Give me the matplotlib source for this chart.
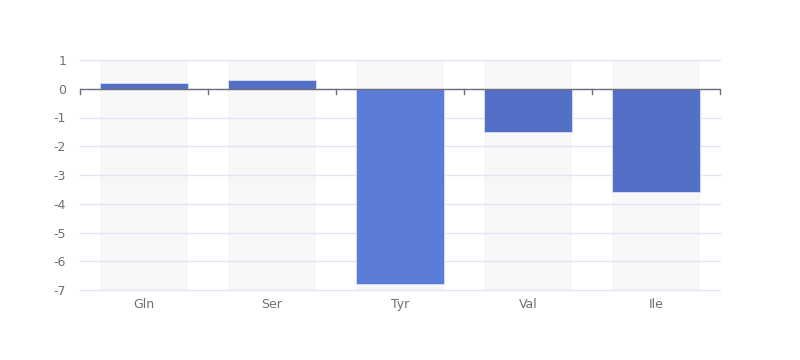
import matplotlib.pyplot as plt

# residue change values
residues = ['Gln', 'Ser', 'Tyr', 'Val', 'Ile']
values = [0.2, 0.3, -6.8, -1.5, -3.6]
y_ticks = [1, 0, -1, -2, -3, -4, -5, -6, -7]

bar_colors = ['#5470c6', '#5470c6', '#5b7bd9', '#5470c6', '#5470c6']

fig = plt.figure(figsize=(8, 3.6), dpi=100)
ax = fig.add_axes([0.1, 70 / 360, 0.8, 230 / 360])

x = range(len(residues))
bar_width = 0.69

# grey background columns
ax.bar(x, [y_ticks[0] - y_ticks[-1]] * len(residues), bottom=y_ticks[-1],
       width=bar_width, color='#f7f7f7', zorder=1)

# grid lines drawn over the background columns
for t in y_ticks:
    ax.axhline(t, color='#e0e6f1', linewidth=1, zorder=2, clip_on=False)

ax.bar(x, values, width=bar_width, color=bar_colors, edgecolor='#dbe2f5',
       linewidth=0.6, zorder=3)

ax.set_xlim(-0.5, len(residues) - 0.5)
ax.set_ylim(y_ticks[-1], y_ticks[0])
ax.set_yticks(y_ticks)
ax.set_yticklabels([str(v) for v in y_ticks])

for s in ax.spines.values():
    s.set_visible(False)

# zero axis line with boundary ticks
ax.axhline(0, color='#6e7079', linewidth=1, zorder=4)
for b in [i - 0.5 for i in range(len(residues) + 1)]:
    ax.plot([b, b], [0, -0.17], color='#6e7079', linewidth=1, zorder=4,
            clip_on=False)

ax.set_xticks(list(x))
ax.set_xticklabels(residues)
ax.tick_params(axis='both', length=0, colors='#6e7079', labelsize=9)
ax.tick_params(axis='y', pad=10)
ax.tick_params(axis='x', pad=6)

fig.savefig('out.png', dpi=100)
